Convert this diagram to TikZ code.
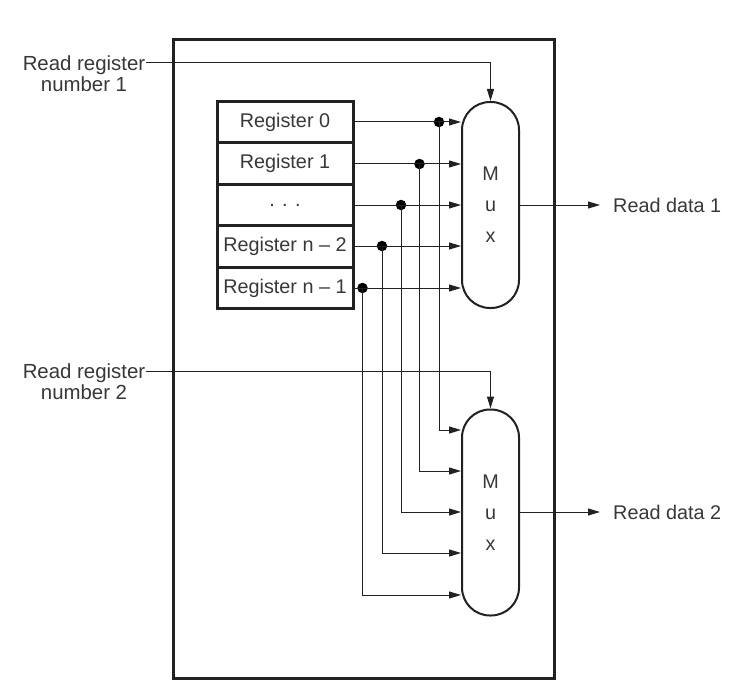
\documentclass[tikz,border=0pt]{standalone}
\usepackage{fontspec}
\setmainfont{Liberation Sans}
\usetikzlibrary{arrows.meta}
\definecolor{ink}{gray}{0.13}
\definecolor{txt}{gray}{0.22}
\tikzset{
  x=1pt,y=-1pt,
  wire/.style={draw=ink,line width=1pt},
  arrowwire/.style={wire,-{Stealth[length=12pt,width=7pt,inset=0pt]}},
  regbox/.style={draw=ink,line width=3pt,minimum width=136pt,minimum height=41.5pt,inner sep=0pt,text=txt,font=\fontsize{19.8}{23}\selectfont,fill=white},
  muxbox/.style={draw=ink,line width=2pt,rounded corners=28pt,minimum width=57pt,minimum height=206pt,inner sep=0pt,align=center,text=txt,font=\fontsize{19.8}{31}\selectfont},
  lbl/.style={text=txt,font=\fontsize{19.8}{21}\selectfont,align=center,inner sep=0pt},
  widelbl/.style={lbl,font=\fontsize{20.4}{21}\selectfont},
  joint/.style={circle,fill=black,draw=none,minimum size=10.5pt,inner sep=0pt},
  frame/.style={draw=ink,line width=3pt}
}
\begin{document}
\begin{tikzpicture}
\useasboundingbox (0,0) rectangle (739,698);
\fill[white] (0,0) rectangle (739,698);
\draw[frame] (173,40) rectangle (554,678);
% registers
\node[regbox] (r0) at (285,122) {Register 0};
\node[regbox] (r1) at (285,163.5) {Register 1};
\node[regbox] (r2) at (285,205) {. . .};
\node[regbox] (r3) at (285,246.5) {Register n -- 2};
\node[regbox] (r4) at (285,288) {Register n -- 1};
% muxes
\node[muxbox] (m1) at (490.5,205) {M\\u\\x};
\node[muxbox] (m2) at (490.5,512.5) {M\\u\\x};
% labels
\node[widelbl] (rr1) at (84,73.5) {Read register\\number 1};
\node[widelbl] (rr2) at (84,381.5) {Read register\\number 2};
\node[lbl,anchor=west] (rd1) at (613,205) {Read data 1};
\node[lbl,anchor=west] (rd2) at (613,512) {Read data 2};
% joints
\node[joint] (j0) at (439,122) {};
\node[joint] (j1) at (419.5,164) {};
\node[joint] (j2) at (401,205) {};
\node[joint] (j3) at (382,246) {};
\node[joint] (j4) at (362.5,288) {};
% input targets on the two multiplexers
\coordinate (a0) at (461,122);
\coordinate (a1) at (461,164);
\coordinate (a2) at (461,205);
\coordinate (a3) at (461,246);
\coordinate (a4) at (461,288);
\coordinate (b0) at (461,430);
\coordinate (b1) at (461,471);
\coordinate (b2) at (461,512);
\coordinate (b3) at (461,553);
\coordinate (b4) at (461,595);
\coordinate (s1) at (146,63);
\coordinate (s2) at (146,371);
\coordinate (o1) at (600,205);
\coordinate (o2) at (600,512);
% wires
\foreach \i in {0,...,4}{
  \draw[arrowwire] (r\i.east |- a\i) -- (a\i);
  \draw[arrowwire] (j\i.center) |- (b\i);
}
\draw[arrowwire] (s1) -| (m1.north);
\draw[arrowwire] (s2) -| (m2.north);
\draw[arrowwire] (m1.east) -- (o1);
\draw[arrowwire] (m2.east |- o2) -- (o2);
\end{tikzpicture}
\end{document}
